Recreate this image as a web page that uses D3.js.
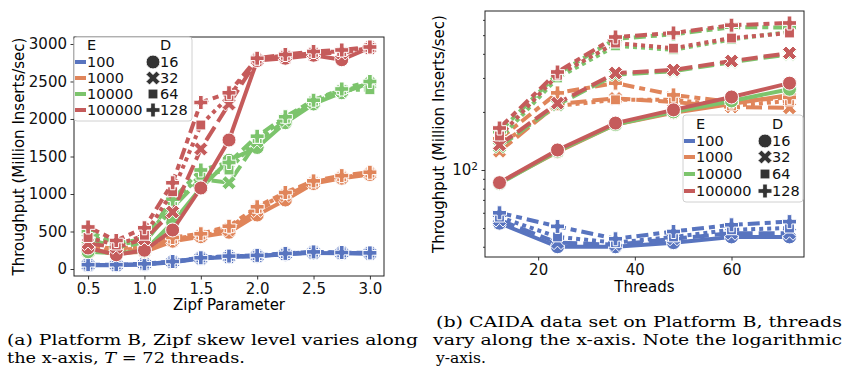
<!DOCTYPE html>
<html>
<head>
<meta charset="utf-8">
<script src="https://cdn.jsdelivr.net/npm/d3@7"></script>
<style>
body { margin: 0; background: #fff; }
</style>
</head>
<body>
<script>
// Data
const zipfParams = [0.5, 0.75, 1.0, 1.25, 1.5, 1.75, 2.0, 2.25, 2.5, 2.75, 3.0]
const threadCounts = [12, 24, 36, 48, 60, 72]
const eLabels = ["100", "1000", "10000", "100000"]
const dLabels = ["16", "32", "64", "128"]
const zipfTicksX = [0.5, 1.0, 1.5, 2.0, 2.5, 3.0]
const zipfTicksY = [0, 500, 1000, 1500, 2000, 2500, 3000]
const threadTicks = [20, 40, 60]
const caidaMajorTicks = [100]
const caidaMinorTicks = [40, 50, 60, 70, 80, 90, 200, 300, 400, 500, 600]

// Zipf panel, one row per D (16, 32, 64, 128)
const zipfE100 = [
    [50, 50, 60, 90, 140, 160, 170, 195, 215, 210, 205],
    [55, 52, 65, 95, 145, 165, 175, 200, 220, 215, 210],
    [52, 55, 65, 95, 148, 168, 178, 205, 225, 215, 212],
    [58, 58, 70, 100, 150, 172, 182, 208, 228, 220, 215]
]
const zipfE1000 = [
    [250, 210, 230, 370, 430, 490, 720, 920, 1140, 1210, 1260],
    [230, 230, 260, 390, 440, 520, 780, 980, 1150, 1220, 1270],
    [270, 250, 280, 400, 455, 550, 810, 1000, 1160, 1230, 1280],
    [300, 270, 300, 420, 470, 570, 830, 1020, 1175, 1245, 1290]
]
const zipfE10000 = [
    [230, 210, 240, 620, 1080, 1450, 1620, 1950, 2200, 2350, 2480],
    [400, 290, 350, 820, 1200, 1150, 1700, 1980, 2220, 2370, 2470],
    [450, 320, 380, 880, 1250, 1320, 1740, 2010, 2240, 2390, 2390],
    [500, 340, 400, 930, 1320, 1420, 1770, 2030, 2250, 2400, 2500]
]
const zipfE100000 = [
    [280, 190, 250, 520, 1080, 1720, 2780, 2810, 2850, 2790, 2950],
    [340, 290, 400, 760, 1600, 2200, 2790, 2840, 2880, 2880, 2950],
    [420, 320, 450, 1030, 1920, 2300, 2800, 2850, 2890, 2900, 2955],
    [560, 380, 550, 1150, 2220, 2350, 2810, 2860, 2900, 2920, 2960]
]

// CAIDA panel, one row per D (16, 32, 64, 128)
const caidaE100 = [
    [53, 40, 40, 42, 45, 45],
    [55, 42, 41, 44, 47, 47],
    [57, 45, 42, 45, 49, 50],
    [60, 51, 44, 48, 52, 54]
]
const caidaE1000 = [
    [86, 124, 172, 198, 220, 245],
    [125, 220, 235, 225, 212, 210],
    [135, 215, 231, 231, 215, 228],
    [145, 251, 282, 245, 225, 238]
]
const caidaE10000 = [
    [85, 125, 172, 200, 228, 262],
    [132, 218, 312, 325, 362, 398],
    [145, 300, 440, 420, 475, 520],
    [158, 315, 478, 505, 550, 548]
]
const caidaE100000 = [
    [86, 127, 175, 205, 239, 282],
    [135, 222, 318, 330, 367, 404],
    [150, 310, 455, 428, 483, 513],
    [165, 322, 489, 513, 563, 578]
]

// Styles
const palette = ["#5874bf", "#e0855a", "#7cc46c", "#c55b5b"]
const lineW = 4
const dashes = [null, "16,6", "4,4", "12,5,6,5"]
const markerSize = 14
const font = "DejaVu Sans, sans-serif"
const fontSize = 15
const legendFontSize = 14.5

// Marker shapes like matplotlib's o, X, rotated square, P
let markerPath = (k, s) => {
    if (k === 0) return d3.symbol(d3.symbolCircle, Math.PI * s * s / 4)()
    let pts
    if (k === 1) {
        pts = [[-1, -2], [0, -1], [1, -2], [2, -1], [1, 0], [2, 1], [1, 2], [0, 1], [-1, 2], [-2, 1], [-1, 0], [-2, -1]]
            .map(p => [p[0] * s / 4, p[1] * s / 4])
    } else if (k === 2) {
        const h = s * 0.3536
        pts = [[-h, -h], [h, -h], [h, h], [-h, h]]
    } else {
        pts = [[-1, -3], [-1, -1], [-3, -1], [-3, 1], [-1, 1], [-1, 3], [1, 3], [1, 1], [3, 1], [3, -1], [1, -1], [1, -3]]
            .map(p => [p[0] * s / 6, p[1] * s / 6])
    }
    return "M" + pts.map(p => p.join(",")).join("L") + "Z"
}

let drawSeries = (svg, xs, groups, xScale, yScale) => {
    groups.forEach((rows, e) => {
        rows.forEach((vals, d) => {
            const pts = xs.map((x, i) => [x, vals[i]])
            svg.append("path")
                .datum(pts)
                .attr("d", d3.line().x(p => xScale(p[0])).y(p => yScale(p[1])))
                .attr("fill", "none")
                .attr("stroke", palette[e])
                .attr("stroke-width", lineW)
                .attr("stroke-linejoin", "round")
                .attr("stroke-dasharray", dashes[d])
            svg.selectAll(null)
                .data(pts).enter().append("path")
                .attr("d", markerPath(d, markerSize))
                .attr("transform", p => `translate(${xScale(p[0])},${yScale(p[1])})`)
                .attr("fill", palette[e])
                .attr("stroke", "#fff")
                .attr("stroke-width", 1)
        })
    })
}

let styleAxis = g => {
    g.select(".domain").remove()
    g.attr("font-family", font).attr("font-size", fontSize)
    g.selectAll(".tick line").attr("stroke", "#222").attr("stroke-width", 0.9)
    g.selectAll(".tick text").attr("fill", "#111")
}

let drawLegend = (svg, x0, y0, w, h, rowY, col) => {
    svg.append("rect")
        .attr("x", x0).attr("y", y0).attr("width", w).attr("height", h)
        .attr("rx", 3)
        .attr("fill", "#fff").attr("fill-opacity", 0.8)
        .attr("stroke", "#d0d0d0").attr("stroke-width", 1)
    const t = (x, y, s) => svg.append("text")
        .attr("x", x).attr("y", y).attr("dy", "0.36em")
        .attr("font-family", font).attr("font-size", legendFontSize)
        .attr("fill", "#111").text(s)
    t(col.eText, y0 + rowY[0], "E")
    t(col.dText, y0 + rowY[0], "D")
    eLabels.forEach((s, i) => {
        const y = y0 + rowY[i + 1]
        svg.append("line")
            .attr("x1", col.handle[0]).attr("x2", col.handle[1])
            .attr("y1", y).attr("y2", y)
            .attr("stroke", palette[i]).attr("stroke-width", lineW)
        t(col.eText, y, s)
    })
    dLabels.forEach((s, i) => {
        const y = y0 + rowY[i + 1]
        svg.append("path")
            .attr("d", markerPath(i, markerSize))
            .attr("transform", `translate(${col.marker},${y})`)
            .attr("fill", "#333")
            .attr("stroke", "#fff").attr("stroke-width", 1)
        t(col.dText, y, s)
    })
}

let main = () => {
    const width = 845
    const height = 374

    let svg = d3.select("body")
        .append("svg")
        .attr("width", width)
        .attr("height", height)
        .style("display", "block")

    // ---------- Panel (a) ----------
    const a = { left: 74, right: 384, top: 37, bottom: 276 }
    let xA = d3.scaleLinear().domain([0.375, 3.125]).range([a.left, a.right])
    let yA = d3.scaleLinear().domain([-93.3, 3093.3]).range([a.bottom, a.top])

    svg.append("g")
        .attr("transform", `translate(0, ${a.bottom})`)
        .call(d3.axisBottom(xA).tickValues(zipfTicksX).tickFormat(d3.format(".1f")).tickSize(3.5).tickPadding(3.5))
        .call(styleAxis)
    svg.append("g")
        .attr("transform", `translate(${a.left}, 0)`)
        .call(d3.axisLeft(yA).tickValues(zipfTicksY).tickFormat(d3.format("d")).tickSize(3.5).tickPadding(3.5))
        .call(styleAxis)

    drawSeries(svg, zipfParams, [zipfE100, zipfE1000, zipfE10000, zipfE100000], xA, yA)

    svg.append("rect")
        .attr("x", a.left).attr("y", a.top)
        .attr("width", a.right - a.left).attr("height", a.bottom - a.top)
        .attr("fill", "none").attr("stroke", "#222").attr("stroke-width", 1)

    drawLegend(svg, 74, 37, 118, 84, [8, 25, 41, 57, 73],
        { handle: [75, 86], eText: 87, marker: 153, dText: 160 })

    svg.append("text")
        .attr("x", (a.left + a.right) / 2).attr("y", 305).attr("dy", "0.36em")
        .attr("text-anchor", "middle")
        .attr("font-family", font).attr("font-size", fontSize)
        .text("Zipf Parameter")
    svg.append("text")
        .attr("transform", `translate(19, ${(a.top + a.bottom) / 2}) rotate(-90)`)
        .attr("dy", "0.36em")
        .attr("text-anchor", "middle")
        .attr("font-family", font).attr("font-size", fontSize)
        .text("Throughput (Million Inserts/sec)")

    // ---------- Panel (b) ----------
    const b = { left: 485, right: 804, top: 11, bottom: 257 }
    let xB = d3.scaleLinear().domain([9, 75]).range([b.left, b.right])
    let yB = d3.scaleLog().domain([35.4, 667]).range([b.bottom, b.top])

    svg.append("g")
        .attr("transform", `translate(0, ${b.bottom})`)
        .call(d3.axisBottom(xB).tickValues(threadTicks).tickSize(3.5).tickPadding(3.5))
        .call(styleAxis)
    svg.append("g")
        .attr("transform", `translate(${b.left}, 0)`)
        .call(d3.axisLeft(yB).tickValues(caidaMinorTicks).tickFormat("").tickSize(2))
        .call(styleAxis)
    svg.append("g")
        .attr("transform", `translate(${b.left}, 0)`)
        .call(d3.axisLeft(yB).tickValues(caidaMajorTicks).tickSize(3.5).tickPadding(3.5))
        .call(styleAxis)
        .call(g => {
            let t = g.selectAll(".tick text").text("")
            t.append("tspan").text("10")
            t.append("tspan").attr("dy", "-0.55em").attr("font-size", 10.5).text("2")
        })

    drawSeries(svg, threadCounts, [caidaE100, caidaE1000, caidaE10000, caidaE100000], xB, yB)

    svg.append("rect")
        .attr("x", b.left).attr("y", b.top)
        .attr("width", b.right - b.left).attr("height", b.bottom - b.top)
        .attr("fill", "none").attr("stroke", "#222").attr("stroke-width", 1)

    drawLegend(svg, 683, 115, 120, 87, [9, 26, 42, 59, 76],
        { handle: [684, 695], eText: 696, marker: 765, dText: 772 })

    svg.append("text")
        .attr("x", (b.left + b.right) / 2).attr("y", 287).attr("dy", "0.36em")
        .attr("text-anchor", "middle")
        .attr("font-family", font).attr("font-size", fontSize)
        .text("Threads")
    svg.append("text")
        .attr("transform", `translate(439, ${(b.top + b.bottom) / 2}) rotate(-90)`)
        .attr("dy", "0.36em")
        .attr("text-anchor", "middle")
        .attr("font-family", font).attr("font-size", fontSize)
        .text("Throughput (Million Inserts/sec)")

    // ---------- Captions ----------
    const serif = "DejaVu Serif, serif"
    let cap = (x, y, len) => {
        return svg.append("text")
            .attr("x", x).attr("y", y)
            .attr("font-family", serif).attr("font-size", 15)
            .attr("fill", "#000")
            .attr("textLength", len).attr("lengthAdjust", "spacingAndGlyphs")
    }
    cap(7, 345, 411).text("(a) Platform B, Zipf skew level varies along")
    let a2 = cap(7, 363, 238)
    a2.append("tspan").text("the x-axis, ")
    a2.append("tspan").attr("font-style", "italic").text("T")
    a2.append("tspan").text(" = 72 threads.")

    cap(436, 327, 406).text("(b) CAIDA data set on Platform B, threads")
    cap(433, 345, 409).text("vary along the x-axis.  Note the logarithmic")
    cap(436, 363, 50).text("y-axis.")
}

main()
</script>
</body>
</html>
